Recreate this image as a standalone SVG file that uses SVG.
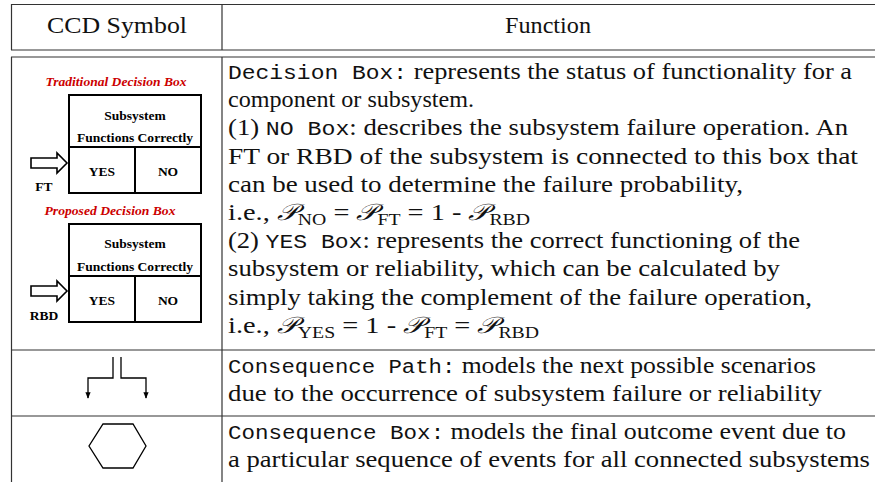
<svg xmlns="http://www.w3.org/2000/svg" width="875" height="482" viewBox="0 0 875 482">
  <style>
    .rule { stroke: #333; stroke-width: 1.2; fill: none; }
    .txt { font-size: 23px; fill: #111; }
    .tt { font-family: "Liberation Mono", "Courier New", monospace; font-size: 20px; }
    .cal { font-family: "DejaVu Serif", "Noto Sans", serif; font-style: italic; }
    .sub { font-size: 16px; }
    .box { fill: none; stroke: #000; stroke-width: 2; }
    .lbl { font-family: "Liberation Serif", "Times New Roman", serif; font-weight: bold; font-size: 13.5px; fill: #000; text-anchor: middle; }
    .title { font-family: "Liberation Serif", "Times New Roman", serif; font-weight: bold; font-style: italic; font-size: 13.5px; fill: #cc0000; text-anchor: middle; }
    .hollow { fill: #fff; stroke: #000; stroke-width: 1.6; stroke-linejoin: miter; }
    .path { fill: none; stroke: #000; stroke-width: 1.3; }
  </style>
  <defs>
    <marker id="tip" viewBox="0 0 10 10" refX="9" refY="5" markerWidth="5" markerHeight="5" orient="auto">
      <path d="M0,1 L10,5 L0,9 Z" fill="#000"/>
    </marker>
  </defs>

  <rect width="875" height="482" fill="#fff"/>

  <!-- table rules -->
  <g id="table">
    <line class="rule" x1="11" y1="4.5" x2="875" y2="4.5"/>
    <line class="rule" x1="11" y1="50" x2="875" y2="50"/>
    <line class="rule" x1="11" y1="57" x2="875" y2="57"/>
    <line class="rule" x1="11" y1="350" x2="875" y2="350"/>
    <line class="rule" x1="11" y1="416" x2="875" y2="416"/>
    <line class="rule" x1="11.5" y1="4" x2="11.5" y2="50"/>
    <line class="rule" x1="11.5" y1="57" x2="11.5" y2="482"/>
    <line class="rule" x1="222" y1="4" x2="222" y2="50"/>
    <line class="rule" x1="222" y1="57" x2="222" y2="482"/>
  </g>

  <!-- header -->
  <g id="header" class="txt" font-family="'Liberation Serif', 'DejaVu Serif', serif">
    <text x="47" y="33" textLength="140" lengthAdjust="spacingAndGlyphs">CCD Symbol</text>
    <text x="505" y="33" textLength="86" lengthAdjust="spacingAndGlyphs">Function</text>
  </g>

  <!-- traditional decision box -->
  <g id="traditional-box">
    <text class="title" x="116" y="86" textLength="141" lengthAdjust="spacingAndGlyphs">Traditional Decision Box</text>
    <rect class="box" x="69" y="95" width="132" height="98"/>
    <line class="box" x1="69" y1="147" x2="201" y2="147"/>
    <line class="box" x1="135" y1="147" x2="135" y2="193"/>
    <text class="lbl" x="135" y="120">Subsystem</text>
    <text class="lbl" x="135" y="142" textLength="116" lengthAdjust="spacingAndGlyphs">Functions Correctly</text>
    <text class="lbl" x="102" y="176">YES</text>
    <text class="lbl" x="168" y="176">NO</text>
    <path class="hollow" d="M31,158 L57,158 L57,153 L67,163 L57,173 L57,168 L31,168 Z"/>
    <text class="lbl" x="44" y="191">FT</text>
  </g>

  <!-- proposed decision box -->
  <g id="proposed-box">
    <text class="title" x="110" y="215" textLength="131" lengthAdjust="spacingAndGlyphs">Proposed Decision Box</text>
    <rect class="box" x="69" y="224" width="132" height="98"/>
    <line class="box" x1="69" y1="276" x2="201" y2="276"/>
    <line class="box" x1="135" y1="276" x2="135" y2="322"/>
    <text class="lbl" x="135" y="248">Subsystem</text>
    <text class="lbl" x="135" y="271" textLength="116" lengthAdjust="spacingAndGlyphs">Functions Correctly</text>
    <text class="lbl" x="102" y="305">YES</text>
    <text class="lbl" x="168" y="305">NO</text>
    <path class="hollow" d="M31,286 L57,286 L57,281 L67,291 L57,301 L57,296 L31,296 Z"/>
    <text class="lbl" x="44" y="320">RBD</text>
  </g>

  <!-- consequence path symbol -->
  <g id="connectors">
    <path class="path" d="M113,357 V378 H88 V398" marker-end="url(#tip)"/>
    <path class="path" d="M121,357 V378 H146 V398" marker-end="url(#tip)"/>
  </g>

  <!-- consequence box symbol -->
  <g id="consequence-box">
    <polygon class="path" points="103,424 133,424 146,446 133,468 103,468 89,446"/>
  </g>

  <!-- function descriptions -->
  <g id="decision-text" class="txt" font-family="'Liberation Serif', 'DejaVu Serif', serif">
    <text x="228" y="79" textLength="624" lengthAdjust="spacingAndGlyphs"><tspan class="tt">Decision Box:</tspan> represents the status of functionality for a</text>
    <text x="228" y="107.2" textLength="246" lengthAdjust="spacingAndGlyphs">component or subsystem.</text>
    <text x="228" y="135.4" textLength="620" lengthAdjust="spacingAndGlyphs">(1) <tspan class="tt">NO Box</tspan>: describes the subsystem failure operation. An</text>
    <text x="228" y="163.6" textLength="630" lengthAdjust="spacingAndGlyphs">FT or RBD of the subsystem is connected to this box that</text>
    <text x="228" y="191.8" textLength="515" lengthAdjust="spacingAndGlyphs">can be used to determine the failure probability,</text>
    <text x="228" y="220" textLength="302" lengthAdjust="spacingAndGlyphs">i.e., <tspan class="cal">𝒫</tspan><tspan class="sub" dy="5">NO</tspan><tspan dy="-5"> = </tspan><tspan class="cal">𝒫</tspan><tspan class="sub" dy="5">FT</tspan><tspan dy="-5"> = 1 - </tspan><tspan class="cal">𝒫</tspan><tspan class="sub" dy="5">RBD</tspan></text>
    <text x="228" y="248.2" textLength="572" lengthAdjust="spacingAndGlyphs">(2) <tspan class="tt">YES Box</tspan>: represents the correct functioning of the</text>
    <text x="228" y="276.4" textLength="552" lengthAdjust="spacingAndGlyphs">subsystem or reliability, which can be calculated by</text>
    <text x="228" y="304.6" textLength="584" lengthAdjust="spacingAndGlyphs">simply taking the complement of the failure operation,</text>
    <text x="228" y="332.8" textLength="311" lengthAdjust="spacingAndGlyphs">i.e., <tspan class="cal">𝒫</tspan><tspan class="sub" dy="5">YES</tspan><tspan dy="-5"> = 1 - </tspan><tspan class="cal">𝒫</tspan><tspan class="sub" dy="5">FT</tspan><tspan dy="-5"> = </tspan><tspan class="cal">𝒫</tspan><tspan class="sub" dy="5">RBD</tspan></text>
  </g>
  <g id="path-text" class="txt" font-family="'Liberation Serif', 'DejaVu Serif', serif">
    <text x="228" y="373" textLength="588" lengthAdjust="spacingAndGlyphs"><tspan class="tt">Consequence Path:</tspan> models the next possible scenarios</text>
    <text x="228" y="401" textLength="594" lengthAdjust="spacingAndGlyphs">due to the occurrence of subsystem failure or reliability</text>
  </g>
  <g id="box-text" class="txt" font-family="'Liberation Serif', 'DejaVu Serif', serif">
    <text x="228" y="439" textLength="618" lengthAdjust="spacingAndGlyphs"><tspan class="tt">Consequence Box:</tspan> models the final outcome event due to</text>
    <text x="228" y="467" textLength="642" lengthAdjust="spacingAndGlyphs">a particular sequence of events for all connected subsystems</text>
  </g>
</svg>
